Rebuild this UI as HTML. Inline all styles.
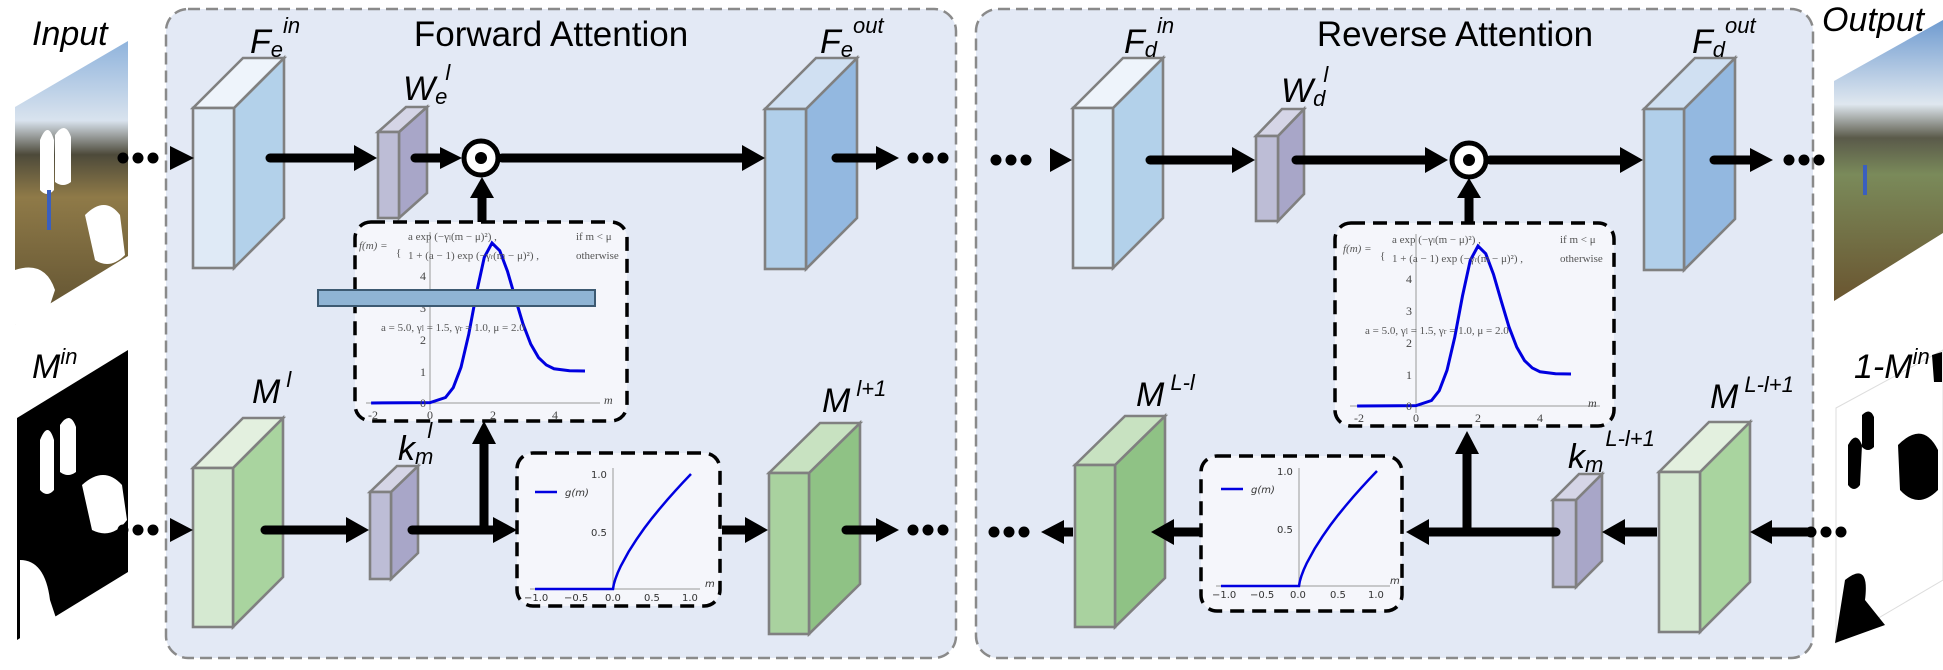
<!DOCTYPE html>
<html><head><meta charset="utf-8"><style>
html,body{margin:0;padding:0;background:#fff;}
svg{display:block;font-family:"Liberation Sans",sans-serif;}
.lab{font-style:italic;font-size:34px;fill:#000;}
.sup{font-style:italic;font-size:22px;}
.tt{font-size:35px;fill:#000;}
.sm{font-family:"Liberation Serif",serif;font-size:11px;fill:#555;}
.tk{font-family:"Liberation Serif",serif;font-size:12px;fill:#444;}
.tk2{font-family:"DejaVu Sans",sans-serif;font-size:10px;fill:#333;}
</style></head><body>
<svg width="1943" height="670" viewBox="0 0 1943 670" xmlns="http://www.w3.org/2000/svg">
<defs>
<linearGradient id="photo" x1="0" y1="0" x2="0" y2="1">
<stop offset="0" stop-color="#8fb3dc"/><stop offset="0.28" stop-color="#d9e3ee"/><stop offset="0.4" stop-color="#4d4a3a"/><stop offset="0.55" stop-color="#8f7a48"/><stop offset="1" stop-color="#5e5030"/>
</linearGradient>
<linearGradient id="photo2" x1="0" y1="0" x2="0" y2="1">
<stop offset="0" stop-color="#6f9bd0"/><stop offset="0.3" stop-color="#dfe7ef"/><stop offset="0.42" stop-color="#5a5a4a"/><stop offset="0.55" stop-color="#7a8a5a"/><stop offset="1" stop-color="#6a5530"/>
</linearGradient>
</defs>
<rect width="1943" height="670" fill="#fff"/>
<rect x="166" y="9" width="790" height="649" rx="22" fill="#e3e9f5" stroke="#8a8a8a" stroke-width="2.5" stroke-dasharray="12,6"/>
<rect x="976" y="9" width="837" height="649" rx="22" fill="#e3e9f5" stroke="#8a8a8a" stroke-width="2.5" stroke-dasharray="12,6"/>
<text class="tt" x="551" y="46" text-anchor="middle">Forward Attention</text>
<text class="tt" x="1455" y="46" text-anchor="middle">Reverse Attention</text>

<polygon points="15,107 128,41 128,256 15,325" fill="url(#photo)"/>
<path d="M40,140 q8,-20 14,0 l0,50 q-7,8 -14,0z M55,135 q10,-15 16,2 l0,45 q-8,6 -16,0z M85,215 q20,-20 35,0 l5,40 q-15,15 -30,5z M15,270 q30,-10 40,20 l-10,30 -30,5z" fill="#fff"/>
<rect x="47" y="190" width="4" height="40" fill="#3a5fbf"/>
<polygon points="17,418 128,350 128,572 17,640" fill="#000"/>
<path d="M40,440 q8,-20 14,0 l0,50 q-7,8 -14,0z M60,425 q10,-15 16,2 l0,45 q-8,6 -16,0z M82,485 q22,-20 40,0 l5,35 q-15,20 -35,10z M20,560 q25,0 30,40 l10,30 -40,10z" fill="#fff"/>
<polygon points="1834,81 1943,20 1943,233 1834,301" fill="url(#photo2)"/>
<rect x="1863" y="165" width="4" height="30" fill="#3a5fbf"/>
<polygon points="1836,408 1943,350 1943,580 1836,643" fill="#fff" stroke="#ddd" stroke-width="1"/>
<path d="M1848,445 q8,-15 14,0 l-2,40 q-6,8 -12,0z M1862,415 q8,-8 12,2 l0,30 q-6,6 -12,0z M1898,445 q25,-25 40,5 l0,40 q-20,20 -38,0z M1932,355 l10,-3 0,30 -8,0z M1845,580 q25,-20 20,20 l20,25 -50,18z" fill="#000"/>

<text class="lab" x="32" y="45">Input</text>
<text class="lab" x="32" y="378">M<tspan class="sup" dy="-14">in</tspan></text>
<text class="lab" x="1822" y="31">Output</text>
<text class="lab" x="1854" y="378">1-M<tspan class="sup" dy="-14">in</tspan></text>

<g stroke="#808080" stroke-width="2.6" stroke-linejoin="miter">
<polygon points="234,108 284,58 284,218 234,268" fill="#b3d1ea"/><polygon points="193,108 243,58 284,58 234,108" fill="#eef4fb"/><rect x="193" y="108" width="41" height="160" fill="#dfeaf6"/>
<polygon points="399,132 427,107 427,193 399,218" fill="#a8a6c8"/><polygon points="378,132 406,107 427,107 399,132" fill="#d5d5e6"/><rect x="378" y="132" width="21" height="86" fill="#bdbdd6"/>
<polygon points="806,109 857,58 857,218 806,269" fill="#93b8e0"/><polygon points="765,109 816,58 857,58 806,109" fill="#d0e0f2"/><rect x="765" y="109" width="41" height="160" fill="#b1cfea"/>
<polygon points="233,468 283,418 283,577 233,627" fill="#a9d49f"/><polygon points="193,468 243,418 283,418 233,468" fill="#e3f0df"/><rect x="193" y="468" width="40" height="159" fill="#d5e9d1"/>
<polygon points="391,492 418,466 418,553 391,579" fill="#a8a6c8"/><polygon points="370,492 397,466 418,466 391,492" fill="#d5d5e6"/><rect x="370" y="492" width="21" height="87" fill="#bdbdd6"/>
<polygon points="809,473 860,423 860,584 809,634" fill="#8fc285"/><polygon points="769,473 820,423 860,423 809,473" fill="#c8e2c1"/><rect x="769" y="473" width="40" height="161" fill="#a9d29f"/>
<polygon points="1113,108 1163,58 1163,218 1113,268" fill="#b3d1ea"/><polygon points="1073,108 1123,58 1163,58 1113,108" fill="#eef4fb"/><rect x="1073" y="108" width="40" height="160" fill="#dfeaf6"/>
<polygon points="1278,136 1304,109 1304,194 1278,221" fill="#a8a6c8"/><polygon points="1256,136 1282,109 1304,109 1278,136" fill="#d5d5e6"/><rect x="1256" y="136" width="22" height="85" fill="#bdbdd6"/>
<polygon points="1684,109 1735,58 1735,219 1684,270" fill="#93b8e0"/><polygon points="1644,109 1695,58 1735,58 1684,109" fill="#d0e0f2"/><rect x="1644" y="109" width="40" height="161" fill="#b1cfea"/>
<polygon points="1115,465 1165,416 1165,578 1115,627" fill="#8fc285"/><polygon points="1075,465 1125,416 1165,416 1115,465" fill="#c8e2c1"/><rect x="1075" y="465" width="40" height="162" fill="#a9d29f"/>
<polygon points="1576,500 1602,474 1602,561 1576,587" fill="#a8a6c8"/><polygon points="1553,500 1579,474 1602,474 1576,500" fill="#d5d5e6"/><rect x="1553" y="500" width="23" height="87" fill="#bdbdd6"/>
<polygon points="1700,472 1750,422 1750,582 1700,632" fill="#a9d49f"/><polygon points="1659,472 1709,422 1750,422 1700,472" fill="#e3f0df"/><rect x="1659" y="472" width="41" height="160" fill="#d5e9d1"/>
</g>

<text class="lab" x="250" y="53">F<tspan class="sup" dy="4">e</tspan><tspan class="sup" dy="-24">in</tspan></text>
<text class="lab" x="403" y="100">W<tspan class="sup" dy="4">e</tspan><tspan class="sup" dy="-24" dx="-2">l</tspan></text>
<text class="lab" x="820" y="53">F<tspan class="sup" dy="4">e</tspan><tspan class="sup" dy="-24">out</tspan></text>
<text class="lab" x="252" y="403">M<tspan class="sup" dy="-16" dx="6">l</tspan></text>
<text class="lab" x="398" y="460">k<tspan class="sup" dy="4">m</tspan><tspan class="sup" dy="-26" dx="-6">l</tspan></text>
<text class="lab" x="822" y="412">M<tspan class="sup" dy="-16" dx="6">l+1</tspan></text>
<text class="lab" x="1124" y="53">F<tspan class="sup" dy="4">d</tspan><tspan class="sup" dy="-24">in</tspan></text>
<text class="lab" x="1281" y="102">W<tspan class="sup" dy="4">d</tspan><tspan class="sup" dy="-24" dx="-2">l</tspan></text>
<text class="lab" x="1692" y="53">F<tspan class="sup" dy="4">d</tspan><tspan class="sup" dy="-24">out</tspan></text>
<text class="lab" x="1136" y="406">M<tspan class="sup" dy="-16" dx="6">L-l</tspan></text>
<text class="lab" x="1568" y="468">k<tspan class="sup" dy="4">m</tspan><tspan class="sup" dy="-26" dx="2">L-l+1</tspan></text>
<text class="lab" x="1710" y="408">M<tspan class="sup" dy="-16" dx="6">L-l+1</tspan></text>

<g stroke="#000" stroke-width="9" stroke-linecap="round" fill="none">
<line x1="270" y1="158" x2="356" y2="158"/>
<line x1="415" y1="158" x2="442" y2="158"/>
<line x1="502" y1="158" x2="745" y2="158"/>
<line x1="836" y1="158" x2="878" y2="158"/>
<line x1="482" y1="222" x2="482" y2="196" stroke-linecap="butt"/>
<line x1="265" y1="530" x2="348" y2="530"/>
<line x1="412" y1="530" x2="495" y2="530"/>
<line x1="484" y1="530" x2="484" y2="442" stroke-linecap="butt"/>
<line x1="722" y1="530" x2="746" y2="530" stroke-linecap="butt"/>
<line x1="846" y1="530" x2="878" y2="530"/>
<line x1="1150" y1="160" x2="1234" y2="160"/>
<line x1="1296" y1="160" x2="1427" y2="160"/>
<line x1="1490" y1="160" x2="1622" y2="160"/>
<line x1="1714" y1="160" x2="1752" y2="160"/>
<line x1="1469" y1="223" x2="1469" y2="196" stroke-linecap="butt"/>
<line x1="1808" y1="532" x2="1770" y2="532"/>
<line x1="1657" y1="532" x2="1623" y2="532" stroke-linecap="butt"/>
<line x1="1556" y1="532" x2="1427" y2="532"/>
<line x1="1467" y1="532" x2="1467" y2="452" stroke-linecap="butt"/>
<line x1="1201" y1="532" x2="1172" y2="532" stroke-linecap="butt"/>
<line x1="1073" y1="532" x2="1062" y2="532" stroke-linecap="butt"/>
</g>
<g fill="#000">
<polygon points="170,146 194,158 170,170"/>
<polygon points="354,145 377,158 354,171"/>
<polygon points="440,147 462,158 440,169"/>
<polygon points="742,145 765,158 742,171"/>
<polygon points="876,146 899,158 876,170"/>
<polygon points="170,518 193,530 170,542"/>
<polygon points="346,517 369,530 346,543"/>
<polygon points="493,517 517,530 493,543"/>
<polygon points="745,517 768,530 745,543"/>
<polygon points="876,518 899,530 876,542"/>
<polygon points="1050,148 1072,160 1050,172"/>
<polygon points="1232,147 1255,160 1232,173"/>
<polygon points="1425,147 1448,160 1425,173"/>
<polygon points="1620,147 1643,160 1620,173"/>
<polygon points="1750,148 1773,160 1750,172"/>
<polygon points="470,198 482,177 494,198"/>
<polygon points="472,444 484,421 496,444"/>
<polygon points="1457,198 1469,178 1481,198"/>
<polygon points="1455,454 1467,431 1479,454"/>
<polygon points="1772,520 1750,532 1772,544"/>
<polygon points="1625,519 1602,532 1625,545"/>
<polygon points="1429,519 1406,532 1429,545"/>
<polygon points="1174,519 1151,532 1174,545"/>
<polygon points="1064,520 1041,532 1064,544"/>
<circle cx="123" cy="158" r="5.5"/><circle cx="138" cy="158" r="5.5"/><circle cx="153" cy="158" r="5.5"/>
<circle cx="913" cy="158" r="5.5"/><circle cx="928" cy="158" r="5.5"/><circle cx="943" cy="158" r="5.5"/>
<circle cx="123" cy="530" r="5.5"/><circle cx="138" cy="530" r="5.5"/><circle cx="153" cy="530" r="5.5"/>
<circle cx="913" cy="530" r="5.5"/><circle cx="928" cy="530" r="5.5"/><circle cx="943" cy="530" r="5.5"/>
<circle cx="996" cy="160" r="5.5"/><circle cx="1011" cy="160" r="5.5"/><circle cx="1026" cy="160" r="5.5"/>
<circle cx="1789" cy="160" r="5.5"/><circle cx="1804" cy="160" r="5.5"/><circle cx="1819" cy="160" r="5.5"/>
<circle cx="1811" cy="532" r="5.5"/><circle cx="1826" cy="532" r="5.5"/><circle cx="1841" cy="532" r="5.5"/>
<circle cx="994" cy="532" r="5.5"/><circle cx="1009" cy="532" r="5.5"/><circle cx="1024" cy="532" r="5.5"/>
</g>
<circle cx="481" cy="158" r="17" fill="#fff" stroke="#000" stroke-width="5"/><circle cx="481" cy="158" r="6" fill="#000"/>
<circle cx="1469" cy="160" r="17" fill="#fff" stroke="#000" stroke-width="5"/><circle cx="1469" cy="160" r="6" fill="#000"/>

<rect x="355" y="222" width="272" height="199" rx="16" fill="#f5f6fb" stroke="#000" stroke-width="3.5" stroke-dasharray="14,8"/>
<rect x="1335" y="223" width="279" height="203" rx="16" fill="#f5f6fb" stroke="#000" stroke-width="3.5" stroke-dasharray="14,8"/>

<g>
<line x1="366" y1="403" x2="600" y2="403" stroke="#999" stroke-width="1"/>
<line x1="430" y1="232" x2="430" y2="410" stroke="#999" stroke-width="1"/>
<g transform="translate(430,403) scale(31,-32)">
<polyline vector-effect="non-scaling-stroke" fill="none" stroke="#0000e0" stroke-width="3" points="-1.9,0 0,0.012 0.5,0.171 0.75,0.48 1,1.116 1.25,2.15 1.5,3.44 1.75,4.55 2,5 2.25,4.76 2.5,4.115 2.75,3.28 3,2.47 3.25,1.84 3.5,1.42 3.75,1.19 4,1.07 4.5,1.008 5,1"/>
</g>
<text class="tk" x="420" y="280">4</text><text class="tk" x="420" y="312">3</text><text class="tk" x="420" y="344">2</text><text class="tk" x="420" y="376">1</text><text class="tk" x="420" y="407">0</text>
<text class="tk" x="368" y="419">-2</text><text class="tk" x="427" y="419">0</text><text class="tk" x="490" y="419">2</text><text class="tk" x="552" y="419">4</text>
<text class="tk" x="604" y="404" font-style="italic">m</text>
<text class="sm" x="359" y="249" font-style="italic">f(m) =</text>
<text class="sm" x="396" y="256" font-size="32" fill="#666">{</text>
<text class="sm" x="408" y="240">a exp (−γ<tspan font-size="7">l</tspan>(m − μ)²) ,</text>
<text class="sm" x="408" y="259">1 + (a − 1) exp (−γ<tspan font-size="7">r</tspan>(m − μ)²) ,</text>
<text class="sm" x="576" y="240">if m &lt; μ</text>
<text class="sm" x="576" y="259">otherwise</text>
<text class="sm" x="381" y="331" font-size="12">a = 5.0, γ<tspan font-size="8">l</tspan> = 1.5,  γ<tspan font-size="8">r</tspan> = 1.0, μ = 2.0</text>
</g>
<rect x="318" y="290" width="277" height="16" fill="#8fb4d4" stroke="#3d5a72" stroke-width="2"/>

<g>
<line x1="1350" y1="406" x2="1600" y2="406" stroke="#999" stroke-width="1"/>
<line x1="1416" y1="234" x2="1416" y2="413" stroke="#999" stroke-width="1"/>
<g transform="translate(1416,406) scale(31,-32)">
<polyline vector-effect="non-scaling-stroke" fill="none" stroke="#0000e0" stroke-width="3" points="-1.9,0 0,0.012 0.5,0.171 0.75,0.48 1,1.116 1.25,2.15 1.5,3.44 1.75,4.55 2,5 2.25,4.76 2.5,4.115 2.75,3.28 3,2.47 3.25,1.84 3.5,1.42 3.75,1.19 4,1.07 4.5,1.008 5,1"/>
</g>
<text class="tk" x="1406" y="283">4</text><text class="tk" x="1406" y="315">3</text><text class="tk" x="1406" y="347">2</text><text class="tk" x="1406" y="379">1</text><text class="tk" x="1406" y="410">0</text>
<text class="tk" x="1354" y="422">-2</text><text class="tk" x="1413" y="422">0</text><text class="tk" x="1475" y="422">2</text><text class="tk" x="1537" y="422">4</text>
<text class="tk" x="1588" y="407" font-style="italic">m</text>
<text class="sm" x="1343" y="252" font-style="italic">f(m) =</text>
<text class="sm" x="1380" y="259" font-size="32" fill="#666">{</text>
<text class="sm" x="1392" y="243">a exp (−γ<tspan font-size="7">l</tspan>(m − μ)²) ,</text>
<text class="sm" x="1392" y="262">1 + (a − 1) exp (−γ<tspan font-size="7">r</tspan>(m − μ)²) ,</text>
<text class="sm" x="1560" y="243">if m &lt; μ</text>
<text class="sm" x="1560" y="262">otherwise</text>
<text class="sm" x="1365" y="334" font-size="12">a = 5.0, γ<tspan font-size="8">l</tspan> = 1.5,  γ<tspan font-size="8">r</tspan> = 1.0, μ = 2.0</text>
</g>

<rect x="517" y="453" width="203" height="153" rx="16" fill="#f5f6fb" stroke="#000" stroke-width="3.5" stroke-dasharray="14,8"/>
<line x1="530" y1="589" x2="700" y2="589" stroke="#999" stroke-width="1"/>
<line x1="613" y1="468" x2="613" y2="589" stroke="#999" stroke-width="1"/>
<g transform="translate(613,589) scale(78,-115)">
<polyline vector-effect="non-scaling-stroke" fill="none" stroke="#0000e0" stroke-width="2.5" points="-1,0 0,0 0.01,0.04 0.03,0.086 0.06,0.14 0.1,0.2 0.2,0.324 0.3,0.43 0.4,0.527 0.5,0.616 0.6,0.699 0.7,0.779 0.8,0.855 0.9,0.929 1,1"/>
</g>
<line x1="535" y1="492" x2="557" y2="492" stroke="#0000e0" stroke-width="2.5"/>
<text class="tk2" x="565" y="496" font-style="italic">g(m)</text>
<text class="tk2" x="591" y="478">1.0</text><text class="tk2" x="591" y="536">0.5</text>
<text class="tk2" x="524" y="601">−1.0</text><text class="tk2" x="564" y="601">−0.5</text><text class="tk2" x="605" y="601">0.0</text><text class="tk2" x="644" y="601">0.5</text><text class="tk2" x="682" y="601">1.0</text>
<text class="tk2" x="705" y="587" font-style="italic">m</text>

<rect x="1201" y="456" width="201" height="155" rx="16" fill="#f5f6fb" stroke="#000" stroke-width="3.5" stroke-dasharray="14,8"/>
<line x1="1216" y1="586" x2="1390" y2="586" stroke="#999" stroke-width="1"/>
<line x1="1299" y1="468" x2="1299" y2="586" stroke="#999" stroke-width="1"/>
<g transform="translate(1299,586) scale(78,-115)">
<polyline vector-effect="non-scaling-stroke" fill="none" stroke="#0000e0" stroke-width="2.5" points="-1,0 0,0 0.01,0.04 0.03,0.086 0.06,0.14 0.1,0.2 0.2,0.324 0.3,0.43 0.4,0.527 0.5,0.616 0.6,0.699 0.7,0.779 0.8,0.855 0.9,0.929 1,1"/>
</g>
<line x1="1221" y1="489" x2="1243" y2="489" stroke="#0000e0" stroke-width="2.5"/>
<text class="tk2" x="1251" y="493" font-style="italic">g(m)</text>
<text class="tk2" x="1277" y="475">1.0</text><text class="tk2" x="1277" y="533">0.5</text>
<text class="tk2" x="1212" y="598">−1.0</text><text class="tk2" x="1250" y="598">−0.5</text><text class="tk2" x="1290" y="598">0.0</text><text class="tk2" x="1330" y="598">0.5</text><text class="tk2" x="1368" y="598">1.0</text>
<text class="tk2" x="1390" y="584" font-style="italic">m</text>
</svg>
</body></html>
